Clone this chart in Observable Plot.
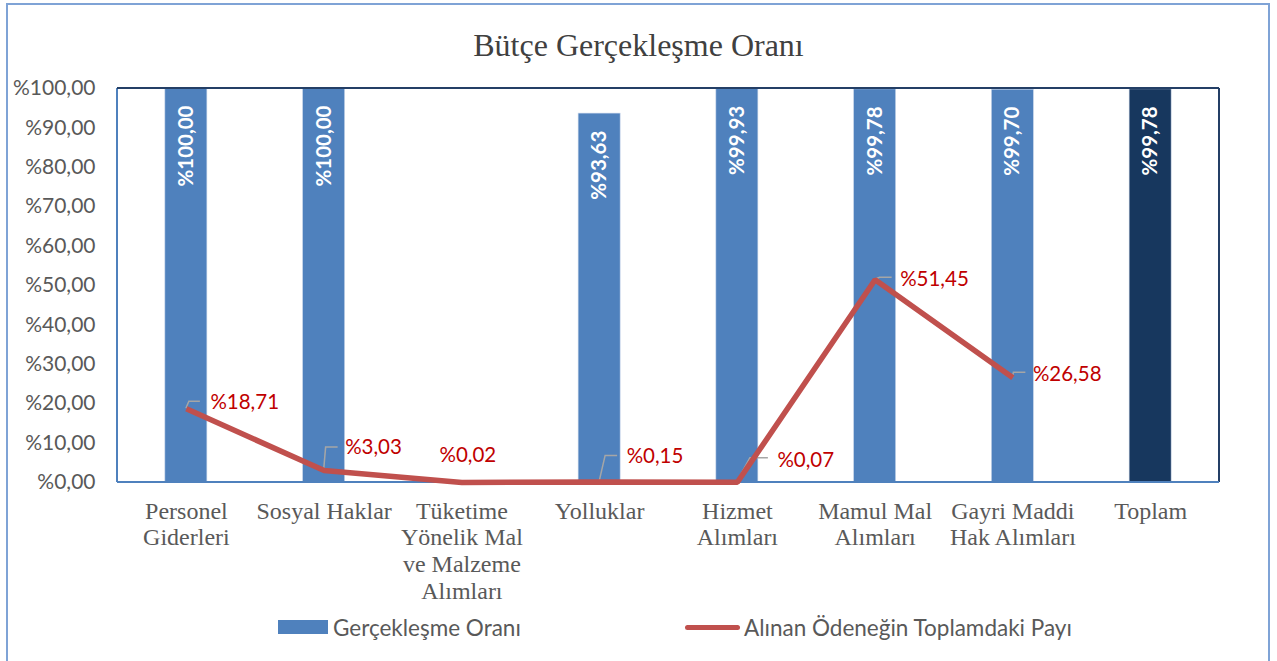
<!DOCTYPE html>
<html>
<head>
<meta charset="utf-8">
<script src="https://cdn.jsdelivr.net/npm/d3@7"></script>
<script src="https://cdn.jsdelivr.net/npm/@observablehq/plot@0.6"></script>
<style>
  html, body { margin: 0; padding: 0; background: #fff; }
  #wrap { position: relative; width: 1277px; height: 661px; overflow: hidden; }
  #border { position: absolute; left: 6px; top: 3px; width: 1264px; height: 700px; border: 2px solid #7FA3D6; box-sizing: border-box; }
  #title { position: relative; height: 43px; padding-top: 27px; line-height: 36px; text-align: center;
           font-family: "Liberation Serif", serif; font-size: 32px; color: #404040; }
  #chart { position: relative; }
  #legend { position: absolute; left: 0; top: 615px; width: 1277px; height: 25px;
            font-family: Lato, sans-serif; font-size: 22.5px; color: #595959; }
  .sw { position: absolute; }
  .lt { position: absolute; top: 0; line-height: 25px; white-space: nowrap; }
</style>
</head>
<body>
<div id="wrap">
  <div id="border"></div>
  <div id="title">Bütçe Gerçekleşme Oranı</div>
  <div id="chart"></div>
  <div id="legend">
    <div class="sw" style="left:278px; top:5px; width:50px; height:14px; background:#4F81BD;"></div>
    <div class="lt" style="left:333px;">Gerçekleşme Oranı</div>
    <div class="sw" style="left:685px; top:10px; width:55px; height:5px; background:#C0504D; border-radius:3px;"></div>
    <div class="lt" style="left:744px;">Alınan Ödeneğin Toplamdaki Payı</div>
  </div>
</div>
<script>
// ---- data ----
const categories = ["Personel Giderleri", "Sosyal Haklar", "Tüketime Yönelik Mal ve Malzeme Alımları", "Yolluklar", "Hizmet Alımları", "Mamul Mal Alımları", "Gayri Maddi Hak Alımları", "Toplam"];
const categoryLabels = ["Personel\nGiderleri", "Sosyal Haklar", "Tüketime\nYönelik Mal\nve Malzeme\nAlımları", "Yolluklar", "Hizmet\nAlımları", "Mamul Mal\nAlımları", "Gayri Maddi\nHak Alımları", "Toplam"];
const realizationRate = [100.00, 100.00, null, 93.63, 99.93, 99.78, 99.70, 99.78];
const shareOfTotal = [18.71, 3.03, 0.02, 0.15, 0.07, 51.45, 26.58, null];
const yTicks = [0, 10, 20, 30, 40, 50, 60, 70, 80, 90, 100];

// ---- layout / style (not data) ----
const labelLayout = [
  {dx: 24, dy: -6, anchor: "start", leader: [[3, -7], [14, -7]]},
  {dx: 21, dy: -23, anchor: "start", leader: [[2, -23], [14, -23]]},
  {dx: 6, dy: -27, anchor: "middle", leader: null},
  {dx: 27, dy: -25, anchor: "start", leader: [[6, -26], [18, -26]]},
  {dx: 40, dy: -22, anchor: "start", leader: [[13, -24], [31, -24]]},
  {dx: 25, dy: 0, anchor: "start", leader: [[5, -2], [17, -2]]},
  {dx: 20, dy: -3, anchor: "start", leader: [[1, -5], [13, -5]]}
];

const loc = d3.formatLocale({decimal: ",", thousands: ".", grouping: [3], currency: ["", ""]});
const f2 = loc.format(".2f");
const pct = v => "%" + f2(v);

const bars = categories.map((c, i) => ({cat: c, v: realizationRate[i], total: c === "Toplam"})).filter(d => d.v != null);
const line = categories.map((c, i) => ({cat: c, v: shareOfTotal[i], i})).filter(d => d.v != null);
const catLab = categories.map((c, i) => ({cat: c, label: categoryLabels[i]}));

function decorations(index, scales, values, dims) {
  const g = d3.create("svg:g");
  const x = scales.x, y = scales.y;
  const half = x.bandwidth ? x.bandwidth() / 2 : 0;
  const L = dims.marginLeft, R = dims.width - dims.marginRight, T = dims.marginTop, B = dims.height - dims.marginBottom;
  // plot-area frame
  g.append("line").attr("x1", L).attr("x2", L).attr("y1", T).attr("y2", B).attr("stroke", "#4F81BD").attr("stroke-width", 2);
  g.append("line").attr("x1", L).attr("x2", R).attr("y1", T).attr("y2", T).attr("stroke", "#243F66").attr("stroke-width", 2);
  g.append("line").attr("x1", R).attr("x2", R).attr("y1", T).attr("y2", B).attr("stroke", "#243F66").attr("stroke-width", 2);
  g.append("line").attr("x1", L).attr("x2", R).attr("y1", B).attr("y2", B).attr("stroke", "#4F81BD").attr("stroke-width", 2);
  // leader lines
  line.forEach(d => {
    const lay = labelLayout[d.i];
    if (!lay.leader) return;
    const px = x(d.cat) + half, py = y(d.v);
    const pts = [[px, py], ...lay.leader.map(([a, b]) => [px + a, py + b])];
    g.append("path").attr("d", d3.line()(pts)).attr("fill", "none").attr("stroke", "#A6A6A6").attr("stroke-width", 1.5);
  });
  return g.node();
}

const lineLabels = line.map(d => Plot.text([d], {
  x: "cat", y: "v", text: d => pct(d.v),
  dx: labelLayout[d.i].dx, dy: labelLayout[d.i].dy, textAnchor: labelLayout[d.i].anchor,
  fill: "#C00000", fontSize: 20.5, fontFamily: "Lato, sans-serif"
}));

const plot = Plot.plot({
  width: 1277,
  height: 545,
  marginLeft: 117,
  marginRight: 58,
  marginTop: 18,
  marginBottom: 133,
  style: {background: "transparent", overflow: "visible"},
  x: {type: "band", domain: categories, paddingInner: 0.695, paddingOuter: 0.3475, round: false, axis: null},
  y: {domain: [0, 100], axis: null},
  marks: [
    Plot.barY(bars, {x: "cat", y: "v", fill: d => d.total ? "#17375E" : "#4F81BD", stroke: "#C9D6EA", strokeWidth: 0.6}),
    Plot.text(bars, {x: "cat", y: "v", text: d => pct(d.v), rotate: -90, textAnchor: "end", dy: 17,
      fill: "white", fontWeight: "bold", fontSize: 20.5, fontFamily: "Lato, sans-serif"}),
    Plot.text(yTicks, {y: d => d, text: d => pct(d), frameAnchor: "left", textAnchor: "end", dx: -22,
      fill: "#595959", fontSize: 21, fontFamily: "Lato, sans-serif"}),
    Plot.text(catLab, {x: "cat", y: () => 0, text: "label", lineAnchor: "top", dy: 17, lineHeight: 1.12,
      fill: "#595959", fontSize: 24, fontFamily: "Liberation Serif, serif"}),
    decorations,
    Plot.line(line, {x: "cat", y: "v", stroke: "#C0504D", strokeWidth: 5.5, strokeLinejoin: "miter", strokeLinecap: "butt"}),
    ...lineLabels
  ]
});
document.getElementById("chart").appendChild(plot);
</script>
</body>
</html>
